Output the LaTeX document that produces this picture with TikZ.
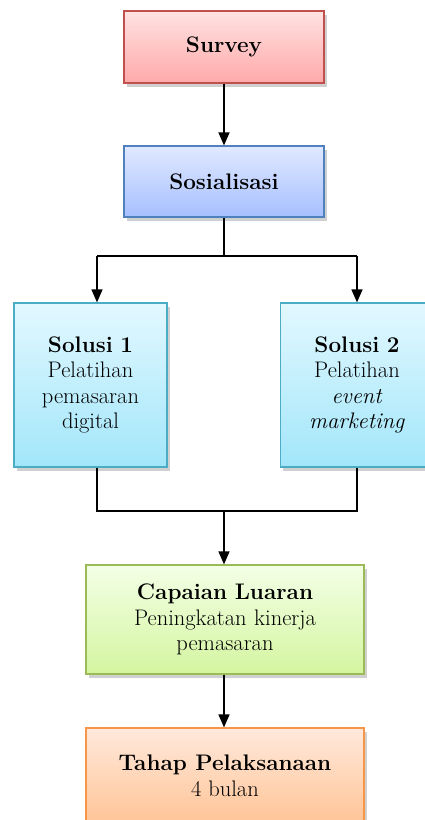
\documentclass[tikz,border=0pt]{standalone}
\usetikzlibrary{shadows,arrows.meta,calc}
\definecolor{redB}{HTML}{C0504D}
\definecolor{redT}{HTML}{FFE2E2}
\definecolor{redM}{HTML}{FFA9A9}
\definecolor{bluB}{HTML}{4F81BD}
\definecolor{bluT}{HTML}{E0E9FF}
\definecolor{bluM}{HTML}{A6BFFF}
\definecolor{cyaB}{HTML}{4BACC6}
\definecolor{cyaT}{HTML}{E2F8FF}
\definecolor{cyaM}{HTML}{A2E6FA}
\definecolor{grnB}{HTML}{9BBB59}
\definecolor{grnT}{HTML}{F3FFE6}
\definecolor{grnM}{HTML}{D4F5A0}
\definecolor{orgB}{HTML}{F79646}
\definecolor{orgT}{HTML}{FFE9DC}
\definecolor{orgM}{HTML}{FFBF8C}
\tikzset{
  box/.style={draw, line width=1.2pt, align=center, inner sep=2pt,
    font=\fontsize{22.5}{25.5}\selectfont,
    drop shadow={shadow xshift=2.5pt, shadow yshift=-3.5pt, opacity=0.3, fill=black!60}},
  redbox/.style={box, draw=redB, top color=redT, bottom color=redM},
  blubox/.style={box, draw=bluB, top color=bluT, bottom color=bluM},
  cyabox/.style={box, draw=cyaB, top color=cyaT, bottom color=cyaM},
  grnbox/.style={box, draw=grnB, top color=grnT, bottom color=grnM},
  orgbox/.style={box, draw=orgB, top color=orgT, bottom color=orgM},
  conn/.style={draw=black, line width=1.5pt},
  arr/.style={conn, -{Triangle[width=11pt,length=13pt]}}
}
\begin{document}
\begin{tikzpicture}[x=1pt,y=1pt]
\useasboundingbox (0,0) rectangle (425,-820);
\clip (0,0) rectangle (425,-820);
\fill[white] (0,0) rectangle (425,-820);
\node[redbox, minimum width=200pt, minimum height=72pt] (sur) at (224,-47) {\textbf{Survey}};
\node[blubox, minimum width=200pt, minimum height=71pt] (sos) at (224,-181.5) {\textbf{Sosialisasi}};
\node[cyabox, minimum width=153pt, minimum height=164pt, text width=148pt] (s1) at (90.5,-385) {\textbf{Solusi 1}\\Pelatihan\\pemasaran\\digital};
\node[cyabox, minimum width=153pt, minimum height=164pt, text width=148pt] (s2) at (357,-385) {\textbf{Solusi 2}\\Pelatihan\\\textit{event}\\\textit{marketing}};
\node[grnbox, minimum width=278pt, minimum height=109pt, text width=270pt] (cap) at (225,-619.5) {\textbf{Capaian Luaran}\\Peningkatan kinerja\\pemasaran};
\node[orgbox, minimum width=278pt, minimum height=109pt, text width=270pt] (tah) at (225,-782.5) {};
\node[align=center, font=\fontsize{22.5}{25.5}\selectfont] (taht) at (225,-776) {\textbf{Tahap Pelaksanaan}\\4 bulan};
\coordinate (sx) at (224,0);
\coordinate (b1) at (97,-256);
\coordinate (b2) at (357,-256);
\coordinate (j1) at (97,-511);
\coordinate (j2) at (357,-511);
\coordinate (jm) at (224,-511);
\draw[arr] (sur.south -| sx) -- (sos.north -| sx);
\draw[conn] (sos.south -| sx) -- (sx |- b1);
\draw[conn] (b1) -- (b2);
\draw[arr] (b1) -- (b1 |- s1.north);
\draw[arr] (b2) -- (b2 |- s2.north);
\draw[conn] (s1.south -| j1) -- (j1) -- (j2) -- (s2.south -| j2);
\draw[arr] (jm) -- (jm |- cap.north);
\draw[arr] (cap.south -| sx) -- (tah.north -| sx);
\end{tikzpicture}
\end{document}
